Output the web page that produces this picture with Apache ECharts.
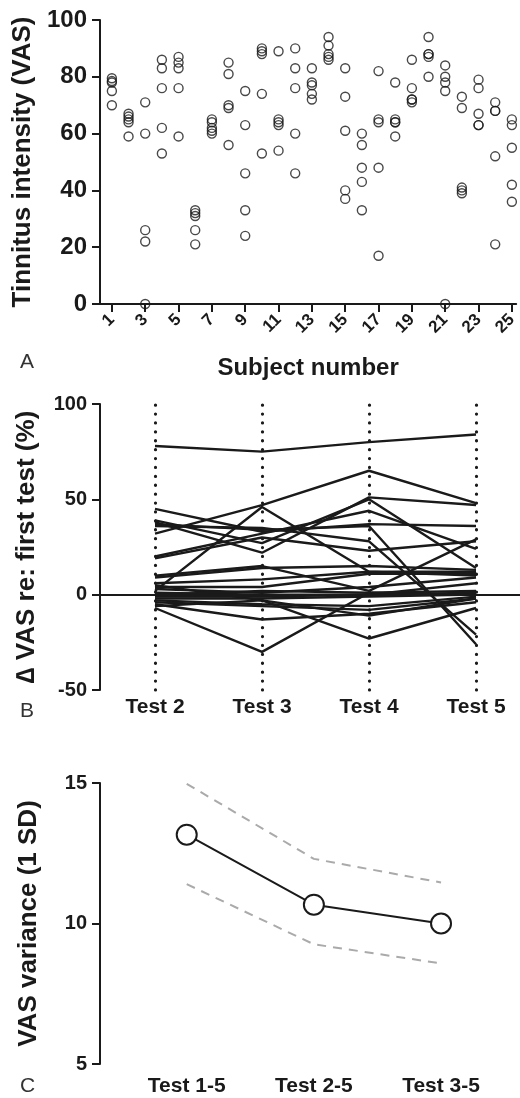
<!DOCTYPE html>
<html>
<head>
<meta charset="utf-8">
<script src="https://cdn.jsdelivr.net/npm/echarts/dist/echarts.min.js"></script>
<style>
html,body{margin:0;padding:0;background:#fff;}
#chart{width:520px;height:1098px;}
</style>
</head>
<body>
<div id="chart"></div>
<script>
// ---------- Panel A data ----------
const subjects = [1,2,3,4,5,6,7,8,9,10,11,12,13,14,15,16,17,18,19,20,21,22,23,24,25];
const subjectTickLabels = [1,3,5,7,9,11,13,15,17,19,21,23,25];
const vasA = [
  [79.5, 78.5, 78, 75, 70],
  [67, 66, 65, 64, 59],
  [71, 60, 26, 22, 0],
  [86, 83, 76, 62, 53],
  [87, 85, 83, 76, 59],
  [33, 32, 31, 26, 21],
  [65, 64, 62, 61, 60],
  [85, 81, 70, 69, 56],
  [75, 63, 46, 33, 24],
  [90, 89, 88, 74, 53],
  [89, 65, 64, 63, 54],
  [90, 83, 76, 60, 46],
  [83, 78, 77, 74, 72],
  [94, 91, 88, 87, 86],
  [83, 73, 61, 40, 37],
  [60, 56, 48, 43, 33],
  [82, 65, 64, 48, 17],
  [78, 65, 64, 64, 59],
  [86, 76, 72, 72, 71],
  [94, 88, 88, 87, 80],
  [84, 80, 78, 75, 0],
  [73, 69, 41, 40, 39],
  [79, 76, 67, 63, 63],
  [71, 68, 68, 52, 21],
  [65, 63, 55, 42, 36]
];
const yTicksA = [0, 20, 40, 60, 80, 100];

// ---------- Panel B data ----------
const testLabelsB = ['Test 2', 'Test 3', 'Test 4', 'Test 5'];
const deltaVAS = [
  [78, 75, 80, 84],
  [32, 47, 65, 48],
  [38, 22, 51, 47],
  [39, 27, 50, 14],
  [45, 33, 37, 36],
  [36, 35, 28, -21],
  [20, 32, 44, 24],
  [19, 30, 23, 28],
  [37, 34, 36, -26],
  [2, 46, 12, 10],
  [-7, -30, 1, 0],
  [5, -3, -23, -7],
  [10, 15, 2, 29],
  [9, 14, 15, 13],
  [6, 8, 12, 12],
  [4, 4, 11, 11],
  [3, 1, 4, 9],
  [1, 0, 0, 6],
  [0, 2, 1, 2],
  [-1, -1, 0, 1],
  [-2, -2, -1, 0],
  [-3, -5, -6, -1],
  [-4, -6, -8, -2],
  [-5, -13, -10, -4],
  [-6, -3, -11, -2]
];
const yTicksB = [-50, 0, 50, 100];

// ---------- Panel C data ----------
const testLabelsC = ['Test 1-5', 'Test 2-5', 'Test 3-5'];
const sdMean  = [13.16, 10.67, 10.0];
const ciUpper = [14.97, 12.3, 11.46];
const ciLower = [11.4, 9.26, 8.58];
const yTicksC = [5, 10, 15];

// ---------- build ----------
const FONT = 'Liberation Sans, Arial, sans-serif';
const INK = '#1a1a1a';

const scatterData = [];
subjects.forEach((s, i) => vasA[i].forEach(v => scatterData.push([s, v])));

const axisLineStyle = {show: true, onZero: false, lineStyle: {color: INK, width: 2}};
const tickStyle = {show: true, length: 8, lineStyle: {color: INK, width: 2}};

const seriesB = deltaVAS.map((row, i) => {
  const s = {
    type: 'line', xAxisIndex: 1, yAxisIndex: 1,
    data: row.map((v, j) => [j, v]),
    symbol: 'none', silent: true,
    lineStyle: {color: INK, width: 2.4},
    z: 3
  };
  if (i === 0) {
    s.markLine = {
      silent: true, symbol: 'none', animation: false,
      label: {show: false},
      data: testLabelsB.map((t, j) => ({xAxis: j, lineStyle: {color: INK, width: 3.2, type: [0.1, 8.8], cap: 'round'}}))
        .concat([{yAxis: 0, lineStyle: {color: INK, width: 2.2, type: 'solid'}}])
    };
  }
  return s;
});

const option = {
  animation: false,
  textStyle: {fontFamily: FONT, color: INK},
  grid: [
    {left: 100, top: 20, width: 420, height: 284},
    {left: 100, top: 404, width: 420, height: 286},
    {left: 100, top: 783, width: 420, height: 281}
  ],
  xAxis: [
    {
      type: 'value', gridIndex: 0, min: 0.287, max: 25.26,
      axisLine: axisLineStyle,
      axisTick: Object.assign({customValues: subjectTickLabels}, tickStyle),
      axisLabel: {customValues: subjectTickLabels, rotate: 45, fontSize: 17, fontWeight: 'bold', color: INK, margin: 13, fontFamily: FONT},
      splitLine: {show: false},
      name: 'Subject number', nameLocation: 'middle', nameGap: 52,
      nameTextStyle: {fontSize: 24, fontWeight: 'bold', color: INK, fontFamily: FONT}
    },
    {
      type: 'value', gridIndex: 1, min: -0.514, max: 3.411,
      axisLine: {show: false, onZero: false},
      axisTick: {show: false},
      axisLabel: {customValues: [0, 1, 2, 3], formatter: v => testLabelsB[v] || '', fontSize: 21, fontWeight: 'bold', color: INK, margin: 7, fontFamily: FONT},
      splitLine: {show: false}
    },
    {
      type: 'value', gridIndex: 2, min: -0.682, max: 2.621,
      axisLine: {show: false, onZero: false},
      axisTick: {show: false},
      axisLabel: {customValues: [0, 1, 2], formatter: v => testLabelsC[v] || '', fontSize: 21, fontWeight: 'bold', color: INK, margin: 12, fontFamily: FONT},
      splitLine: {show: false}
    }
  ],
  yAxis: [
    {
      type: 'value', gridIndex: 0, min: 0, max: 100, interval: 20,
      axisLine: axisLineStyle, axisTick: tickStyle,
      axisLabel: {fontSize: 24, fontWeight: 'bold', color: INK, margin: 13, fontFamily: FONT},
      splitLine: {show: false},
      name: 'Tinnitus intensity (VAS)', nameLocation: 'middle', nameGap: 62, nameRotate: 90,
      nameTextStyle: {fontSize: 26, fontWeight: 'bold', color: INK, fontFamily: FONT}
    },
    {
      type: 'value', gridIndex: 1, min: -50, max: 100, interval: 50,
      axisLine: axisLineStyle, axisTick: tickStyle,
      axisLabel: {fontSize: 20, fontWeight: 'bold', color: INK, margin: 13, fontFamily: FONT},
      splitLine: {show: false},
      name: '\u2206 VAS re: first test (%)', nameLocation: 'middle', nameGap: 60, nameRotate: 90,
      nameTextStyle: {fontSize: 26, fontWeight: 'bold', color: INK, fontFamily: FONT}
    },
    {
      type: 'value', gridIndex: 2, min: 5, max: 15, interval: 5,
      axisLine: axisLineStyle, axisTick: tickStyle,
      axisLabel: {fontSize: 20, fontWeight: 'bold', color: INK, margin: 13, fontFamily: FONT},
      splitLine: {show: false},
      name: 'VAS variance (1 SD)', nameLocation: 'middle', nameGap: 58, nameRotate: 90,
      nameTextStyle: {fontSize: 26, fontWeight: 'bold', color: INK, fontFamily: FONT}
    }
  ],
  series: [
    {
      type: 'scatter', xAxisIndex: 0, yAxisIndex: 0,
      data: scatterData, symbol: 'circle', symbolSize: 9, silent: true,
      itemStyle: {color: 'rgba(255,255,255,0)', borderColor: INK, borderWidth: 1.4},
      z: 4
    }
  ].concat(seriesB).concat([
    {
      type: 'line', xAxisIndex: 2, yAxisIndex: 2, silent: true,
      data: ciUpper.map((v, j) => [j, v]), symbol: 'none',
      lineStyle: {color: '#aaaaaa', width: 2, type: [9, 7]}
    },
    {
      type: 'line', xAxisIndex: 2, yAxisIndex: 2, silent: true,
      data: ciLower.map((v, j) => [j, v]), symbol: 'none',
      lineStyle: {color: '#aaaaaa', width: 2, type: [9, 7]}
    },
    {
      type: 'line', xAxisIndex: 2, yAxisIndex: 2, silent: true,
      data: sdMean.map((v, j) => [j, v]),
      symbol: 'circle', symbolSize: 20, showAllSymbol: true,
      itemStyle: {color: '#ffffff', borderColor: INK, borderWidth: 2},
      lineStyle: {color: INK, width: 2},
      z: 5
    }
  ]),
  graphic: [
    {type: 'text', left: 20, top: 352, style: {text: 'A', fontSize: 21, fontFamily: FONT, fill: '#333'}},
    {type: 'text', left: 20, top: 701, style: {text: 'B', fontSize: 21, fontFamily: FONT, fill: '#333'}},
    {type: 'text', left: 20, top: 1076, style: {text: 'C', fontSize: 21, fontFamily: FONT, fill: '#333'}}
  ]
};

const chart = echarts.init(document.getElementById('chart'), null, {renderer: 'canvas'});
chart.setOption(option);
</script>
</body>
</html>
